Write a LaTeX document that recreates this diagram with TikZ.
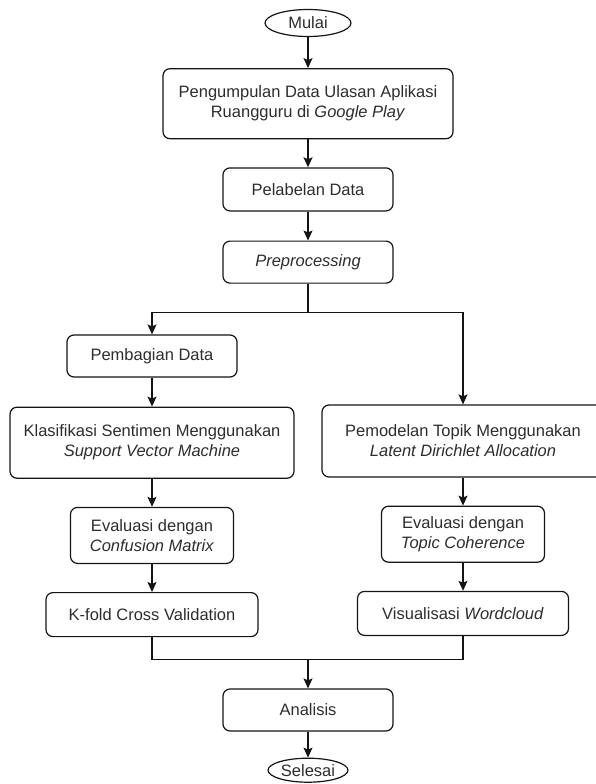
\documentclass[tikz,border=0pt]{standalone}
\usepackage{fontspec}
\setmainfont{Liberation Sans}
\usepackage{xcolor}
\usepackage{tikz}
\definecolor{garis}{RGB}{20, 20, 20}
\definecolor{teks}{RGB}{45, 45, 45}
\usetikzlibrary{shapes.geometric, arrows.meta, positioning, calc}

\tikzset{
    proses/.style={draw=garis, line width=1.2pt, rounded corners=7pt, align=center,
                   inner sep=0pt, minimum height=42pt, text=teks},
    terminal/.style={draw=garis, line width=1.2pt, ellipse, inner sep=0pt,
                     minimum width=86pt, minimum height=27pt, text=teks},
    panah/.style={draw=garis, line width=1.2pt, -{Stealth[length=10pt, width=9pt, inset=2pt]}},
    garisan/.style={draw=garis, line width=1.2pt}
}

\begin{document}
\begin{tikzpicture}[x=1pt, y=-1pt, font=\fontsize{16.5pt}{20pt}\selectfont]
    \useasboundingbox (0,0) rectangle (595,784);

    \node[terminal] (mulai) at (308,23) {Mulai};
    \node[proses, minimum width=290pt, minimum height=70pt, below=31pt of mulai] (kumpul)
        {Pengumpulan Data Ulasan Aplikasi\\Ruangguru di \textit{Google Play}};
    \node[proses, minimum width=170pt, minimum height=43pt, below=28pt of kumpul] (label) {Pelabelan Data};
    \node[proses, minimum width=170pt, below=29pt of label] (prepro) {\textit{Preprocessing}};

    \node[proses, minimum width=170pt] (bagi) at (152,356) {Pembagian Data};
    \node[proses, minimum width=284pt, minimum height=71pt, below=29pt of bagi] (klasifikasi)
        {Klasifikasi Sentimen Menggunakan\\\textit{Support Vector Machine}};
    \node[proses, minimum width=163pt, minimum height=56pt, below=28pt of klasifikasi] (evalcm)
        {Evaluasi dengan\\\textit{Confusion Matrix}};
    \node[proses, minimum width=212pt, minimum height=44pt, below=28pt of evalcm] (kfold) {K-fold Cross Validation};

    \node[proses, minimum width=282pt, minimum height=72pt] (topik) at (463,441)
        {Pemodelan Topik Menggunakan\\\textit{Latent Dirichlet Allocation}};
    \node[proses, minimum width=163pt, minimum height=56pt, below=28pt of topik] (evaltc)
        {Evaluasi dengan\\\textit{Topic Coherence}};
    \node[proses, minimum width=211pt, minimum height=44pt, below=28pt of evaltc] (visual) {Visualisasi \textit{Wordcloud}};

    \node[proses, minimum width=170pt] (analisis) at (308,710) {Analisis};
    \node[terminal, minimum width=80pt, minimum height=24pt, below=26pt of analisis] (selesai) {Selesai};

    \coordinate (cabang) at ([yshift=-29pt]prepro.south);
    \coordinate (gabung) at ([yshift=29pt]analisis.north);

    \draw[panah] (mulai) -- (kumpul);
    \draw[panah] (kumpul) -- (label);
    \draw[panah] (label) -- (prepro);
    \draw[garisan] (prepro) -- (cabang);
    \draw[panah] (cabang) -| (bagi);
    \draw[panah] (cabang) -| (topik);
    \draw[panah] (bagi) -- (klasifikasi);
    \draw[panah] (klasifikasi) -- (evalcm);
    \draw[panah] (evalcm) -- (kfold);
    \draw[panah] (topik) -- (evaltc);
    \draw[panah] (evaltc) -- (visual);
    \draw[garisan] (kfold) |- (gabung);
    \draw[garisan] (visual) |- (gabung);
    \draw[panah] (gabung) -- (analisis);
    \draw[panah] (analisis) -- (selesai);
\end{tikzpicture}
\end{document}
